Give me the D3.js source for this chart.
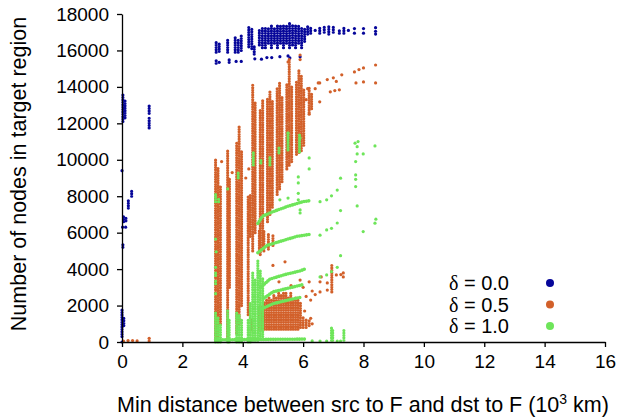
<!DOCTYPE html>
<html>
<head>
<meta charset="utf-8">
<script src="https://cdn.jsdelivr.net/npm/d3@7"></script>
<style>
  body { margin: 0; background: #fff; }
  text { font-family: "Liberation Sans", Arial, sans-serif; fill: #000; }
</style>
</head>
<body>
<script>
// x in 10^3 km, y in nodes. strips are dense vertical runs [x, yLow, yHigh]
const xTicks = [0, 2, 4, 6, 8, 10, 12, 14, 16];
const yTicks = [0, 2000, 4000, 6000, 8000, 10000, 12000, 14000, 16000, 18000];
const legendLabels = ["0.0", "0.5", "1.0"];

const blueStrips = [
  [0.03,12100,13650],[0.1,12300,13300],[0.9,11750,12350],[0.9,12550,13000],
  [0.32,8000,8350],[0.21,7350,7800],[0.05,6600,6970],[0.13,6650,6900],[0.03,5200,5430],
  [0.0,300,1850],[0.06,900,1400],
  [3.12,15900,16500],[3.22,15950,16400],[3.12,15300,15500],[3.22,15350,15450],
  [3.5,15900,16600],[3.55,15350,15500],
  [3.75,15900,16700],[3.85,15900,16600],[3.95,16000,16900],[3.78,15400,15500],[3.95,15400,15500],
  [4.2,16200,17300],[4.3,16100,17200],[4.38,15800,16300],
  [4.55,16300,17200],[4.65,16150,17300],[4.75,16150,17300],[4.85,16400,17300],[4.95,16150,17350],
  [5.05,16400,17300],[5.15,16150,17350],[5.25,16400,17400],[5.35,16150,17400],[5.45,16400,17400],
  [5.55,16150,17500],[5.65,16300,17400],[5.75,16150,17350],[5.85,16400,17350],[5.95,16150,17300],
  [6.05,16500,17200],[6.15,16900,17300],[6.25,16950,17250],[6.55,16950,17250],[6.7,17000,17300],
  [6.85,16900,17300],[7.0,17000,17300],[7.2,16950,17200],[7.35,16950,17250]
];
const bluePoints = [
  [0.0,9400],[0.12,6300],[0.02,6300],[0.0,0],[4.4,15540],[4.62,15520],[4.8,15610],[4.96,15610],
  [5.23,15660],[5.5,15700],[5.56,15590],[5.9,15650],[7.7,17200],[7.7,16950],[8.0,17200],[8.0,16950],
  [8.4,17250],[8.4,16900],[8.4,17050],[6.4,17100],[7.5,17100]
];

const orangeStrips = [
  [3.1,100,10100],[3.18,300,9600],[3.26,1000,8600],
  [3.5,200,10500],[3.56,3000,9000],
  [3.8,500,11000],[3.88,1000,11900],[3.96,2000,10500],
  [4.18,1500,8000],[4.25,5800,8100],
  [4.33,5000,14100],[4.41,6000,13200],
  [4.58,4800,12800],[4.66,5200,13300],[4.82,6600,13400],[4.9,7000,13800],[4.98,7400,13200],
  [5.14,8100,14000],[5.22,8400,14300],[5.3,8800,13500],[5.46,9500,14200],
  [5.54,9700,15500],[5.62,9900,14000],[5.78,10300,14300],[5.86,10400,15000],[5.94,10500,14600],
  [6.02,10800,13900],[6.2,12600,14000],[6.28,12800,13600],
  [4.3,660,1200],[4.55,700,1900],[4.63,700,2000],[4.71,700,2200],[4.79,700,2400],[4.87,700,2500],
  [4.95,700,2400],[5.03,700,2600],[5.11,700,2500],[5.19,700,2700],[5.27,700,2600],[5.35,700,2800],
  [5.43,700,2700],[5.51,700,2500],[5.59,700,2700],[5.67,700,2400],[5.75,700,2500],[5.83,700,2300],
  [5.91,800,2200],[6.0,800,1400],[6.1,800,1300],[6.2,900,1200],
  [4.55,4900,6150],[4.7,5000,6100],[4.85,5100,6000],[5.0,5300,5900],
  [6.95,2750,4230]
];
const orangePoints = [
  [0.05,50],[0.2,80],[0.35,80],[0.5,60],[0.9,60],[0.9,200],
  [6.55,14220],[6.8,14400],[7.0,14500],[7.28,14660],[7.1,14300],[6.9,13730],[7.05,13800],[7.2,13840],
  [6.55,13180],[7.7,14820],[7.85,14950],[8.0,15040],[8.4,15200],[7.75,14220],[8.0,14270],[8.4,14220],
  [6.1,13300],[6.15,13900],[6.4,13900],[6.5,14220],[5.5,15370],[5.9,15750],[5.9,15500],[6.2,12500],
  [6.56,2750],[6.56,3300],[6.6,3570],[6.8,2850],[6.8,3240],[7.1,3680],[7.25,3700],[7.33,3570],[7.33,3790],
  [6.2,3300],[6.3,2800],[6.1,2500],[6.4,2600],[6.0,3000],[6.25,2300],[6.05,1700],[6.3,1000],[6.25,1300],
  [5.2,3300],[5.6,3100],[5.9,3400],[5.0,4200],[5.4,4400],[4.2,9500],[4.1,9000],[3.65,9300],[3.3,9900]
];

const greenStrips = [
  [3.1,0,1600],[3.18,0,1400],[3.26,0,1000],[3.1,7700,8180],[3.2,7700,7960],[3.1,3200,3400],[3.1,3650,3800],
  [3.12,4950,5050],[3.1,4100,4200],[3.1,5650,5750],[3.1,2650,2750],
  [3.5,0,1750],[3.55,0,1200],[3.5,8400,8500],
  [3.8,0,1600],[3.88,0,1500],[3.96,0,1200],[3.85,9000,9300],
  [4.18,0,1300],[4.25,0,2200],[4.33,100,3800],[4.41,100,3500],
  [4.35,9720,10430],[4.6,9830,9990],[4.9,9720,10160],[5.2,10380,10650],[5.5,10540,11530],[5.88,10430,11360],
  [4.5,100,4500],[4.58,200,4000],[4.66,300,3500],
  [6.94,100,770],[6.98,100,700],[7.35,100,660]
];
const greenBands = [
  [[4.5,6500],[4.65,6900],[5.0,7150],[5.5,7450],[6.0,7700],[6.2,7750]],
  [[4.5,4900],[4.8,5300],[5.3,5550],[5.8,5800],[6.2,5900]],
  [[4.6,3000],[4.9,3450],[5.4,3700],[5.9,3900],[6.05,4000]],
  [[4.7,2400],[5.0,2750],[5.5,2950],[6.0,3150]],
  [[4.6,1800],[5.0,2100],[5.5,2300],[5.9,2450]],
  [[3.1,120],[6.1,160]]
];
const greenPoints = [
  [6.56,7700],[6.78,7800],[6.94,8020],[7.13,8340],[7.24,8990],[6.56,5860],[6.78,6150],[6.94,6240],
  [7.13,6530],[7.24,7210],[7.24,4740],[7.13,4100],[6.94,3860],[6.78,3680],[6.56,3570],
  [7.72,10910],[7.82,11000],[7.79,10720],[8.38,10760],[7.79,10320],[7.99,10320],[7.74,9900],[7.74,9170],
  [7.74,8930],[7.74,8530],[7.79,7470],[8.41,6740],[8.38,6520],[7.99,6060],
  [6.56,50],[6.78,50],[7.13,50],[7.24,50],[6.3,60],
  [5.84,9060],[5.84,8160],[5.84,7800],[5.9,7080],[5.9,7250],[5.84,8730],[5.5,7900],[5.23,7800],
  [5.5,11470],[5.9,11200],[6.2,10100],[6.2,9500]
];

const colors = ["#06069a", "#d2602a", "#6ee55a"];

const width = 620, height = 419;
const svg = d3.select("body").append("svg").attr("width", width).attr("height", height);

const x = d3.scaleLinear().domain([0, 16]).range([122, 605]);
const y = d3.scaleLinear().domain([0, 18000]).range([342, 14]);

const plot = svg.append("g");

// runs are stroked as chains of overlapping dots so they keep a speckled look
function drawSeries(strips, bands, points, color) {
  plot.append("g").selectAll("line").data(strips).join("line")
    .attr("x1", d => x(d[0])).attr("x2", d => x(d[0]))
    .attr("y1", d => y(d[1])).attr("y2", d => y(d[2]))
    .attr("stroke", color).attr("stroke-width", 3.2).attr("stroke-linecap", "round")
    .attr("stroke-dasharray", "0 2.4");
  const line = d3.line().x(d => x(d[0])).y(d => y(d[1]));
  plot.append("g").selectAll("path").data(bands).join("path")
    .attr("d", line).attr("fill", "none")
    .attr("stroke", color).attr("stroke-width", 3.6).attr("stroke-linecap", "round")
    .attr("stroke-dasharray", "0 2.4");
  plot.append("g").selectAll("circle").data(points).join("circle")
    .attr("cx", d => x(d[0])).attr("cy", d => y(d[1])).attr("r", 1.6)
    .attr("fill", color);
}

drawSeries(blueStrips, [], bluePoints, colors[0]);
drawSeries(orangeStrips, [], orangePoints, colors[1]);
drawSeries(greenStrips, greenBands, greenPoints, colors[2]);

// axes
const xAxis = svg.append("g").attr("transform", "translate(0,342)")
  .call(d3.axisBottom(x).tickValues(xTicks).tickSize(5).tickPadding(8).tickSizeOuter(0)
    .tickFormat(d3.format("d")));
const yAxis = svg.append("g").attr("transform", "translate(122,0)")
  .call(d3.axisLeft(y).tickValues(yTicks).tickSize(5).tickPadding(8).tickSizeOuter(0)
    .tickFormat(d3.format("d")));
[xAxis, yAxis].forEach(a => {
  a.select(".domain").attr("stroke", "#000").attr("stroke-width", 1.3);
  a.selectAll(".tick line").attr("stroke", "#000").attr("stroke-width", 1.3);
  a.selectAll("text").style("font-size", "19px").attr("fill", "#000");
});

svg.append("text")
  .attr("transform", "translate(26,174) rotate(-90)")
  .attr("text-anchor", "middle")
  .style("font-size", "21.5px")
  .text("Number of nodes in target region");

const xt = svg.append("text")
  .attr("x", 363).attr("y", 412)
  .attr("text-anchor", "middle")
  .style("font-size", "21.5px");
xt.append("tspan").text("Min distance between src to F and dst to F (10");
xt.append("tspan").attr("dy", -8).style("font-size", "14px").text("3");
xt.append("tspan").attr("dy", 8).text(" km)");

// legend
const legend = svg.append("g");
legendLabels.forEach((lab, i) => {
  const ly = 283 + i * 21.5;
  const t = legend.append("text").attr("x", 509).attr("y", ly + 7)
    .attr("text-anchor", "end").style("font-size", "20px");
  t.append("tspan").style("font-family", "'Liberation Serif', serif").text("δ");
  t.append("tspan").text(" = " + lab);
  legend.append("circle").attr("cx", 550).attr("cy", ly).attr("r", 4).attr("fill", colors[i]);
});
</script>
</body>
</html>
